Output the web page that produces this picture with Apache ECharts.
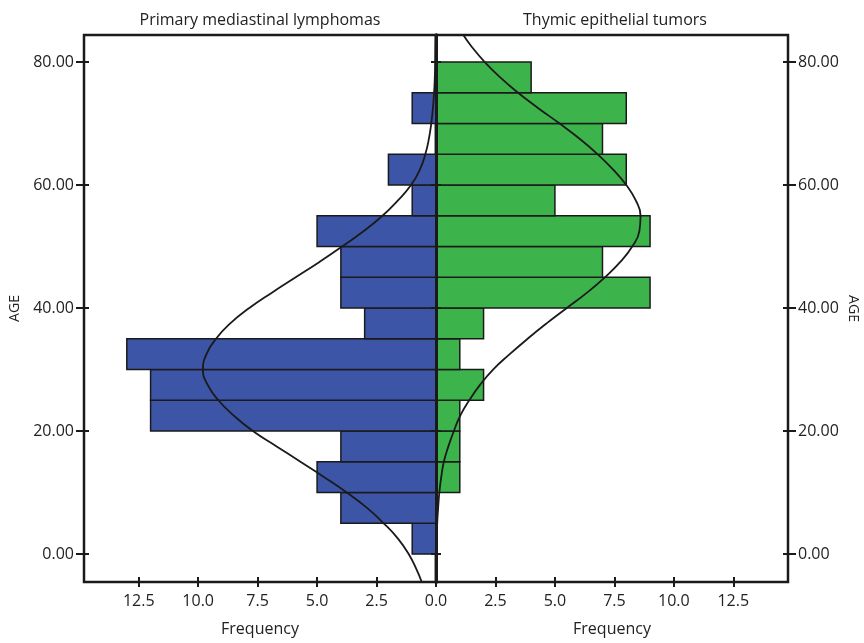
<!DOCTYPE html>
<html>
<head>
<meta charset="utf-8">
<title>AGE histogram</title>
<script src="https://cdn.jsdelivr.net/npm/echarts@6.0.0/dist/echarts.min.js"></script>
<style>
  html, body { margin: 0; padding: 0; background: #ffffff; }
  #main { width: 864px; height: 643px; }
</style>
</head>
<body>
<div id="main"></div>
<script>
// age bins, 5 years wide, given by their lower edge
var binStarts = [0, 5, 10, 15, 20, 25, 30, 35, 40, 45, 50, 55, 60, 65, 70, 75];
var lymphomaCounts = [1, 4, 5, 4, 12, 12, 13, 3, 4, 4, 5, 1, 2, 0, 1, 0];
var thymicCounts = [0, 0, 1, 1, 1, 2, 1, 2, 9, 7, 9, 5, 8, 7, 8, 4];

// normal curves at these ages
var curveAges = [-4.55, -2.5, 0, 2.5, 5, 7.5, 10, 12.5, 15, 17.5, 20, 22.5, 25, 27.5, 30, 32.5, 35, 37.5,
    40, 42.5, 45, 47.5, 50, 52.5, 55, 57.5, 60, 62.5, 65, 67.5, 70, 72.5, 75, 77.5, 80, 82.5, 84.4];
var lymphomaCurve = [0.6, 0.82, 1.15, 1.6, 2.2, 2.9, 3.75, 4.7, 5.7, 6.7, 7.7, 8.5, 9.15, 9.6, 9.8, 9.65, 9.25, 8.65,
    7.85, 6.9, 5.9, 4.9, 3.95, 3.05, 2.25, 1.6, 1.05, 0.68, 0.45, 0.3, 0.2, 0.13, 0.08, 0.05, 0.03, 0.02, 0.01];
var thymicCurve = [0, 0.005, 0.01, 0.03, 0.05, 0.09, 0.14, 0.22, 0.33, 0.52, 0.75, 1.02, 1.4, 1.85, 2.4, 3.1, 3.85, 4.65,
    5.5, 6.35, 7.1, 7.75, 8.25, 8.55, 8.6, 8.4, 8.0, 7.45, 6.8, 6.05, 5.2, 4.3, 3.45, 2.7, 2.05, 1.5, 1.15];

var ageTicks = [0, 20, 40, 60, 80];
var leftFreqTicks = [2.5, 5, 7.5, 10, 12.5];
var rightFreqTicks = [0, 2.5, 5, 7.5, 10, 12.5];

var font = '"Open Sans", "Noto Sans", sans-serif';
var ink = '#1a1a1a';

function binData(counts) {
    var out = [];
    for (var i = 0; i < binStarts.length; i++) {
        if (counts[i] > 0) out.push([binStarts[i], binStarts[i] + 5, counts[i]]);
    }
    return out;
}

function curveData(vals) {
    return curveAges.map(function (a, i) { return [vals[i], a]; });
}

function histRender(fill) {
    return function (params, api) {
        var p0 = api.coord([0, api.value(1)]);
        var p1 = api.coord([api.value(2), api.value(0)]);
        return {
            type: 'rect',
            shape: {
                x: Math.min(p0[0], p1[0]),
                y: p0[1],
                width: Math.abs(p1[0] - p0[0]),
                height: p1[1] - p0[1]
            },
            style: { fill: fill, stroke: ink, lineWidth: 1.5 }
        };
    };
}

function freqAxis(grid, inverse, labels, inside) {
    return {
        type: 'value', gridIndex: grid, min: 0, max: 14.8, inverse: inverse,
        position: 'bottom',
        axisLine: { show: false, onZero: false },
        splitLine: { show: false },
        axisTick: {
            show: true, inside: inside, length: 5, customValues: rightFreqTicks,
            lineStyle: { color: ink, width: 2 }
        },
        axisLabel: inside ? { show: false } : {
            show: true, customValues: labels, margin: 11,
            fontFamily: font, fontSize: 16, color: '#222',
            formatter: function (v) { return v.toFixed(1); }
        },
        name: inside ? '' : 'Frequency',
        nameLocation: 'middle', nameGap: 39,
        nameTextStyle: { fontFamily: font, fontSize: 16, color: '#222' }
    };
}

function ageAxis(grid, pos, opts) {
    var ax = {
        type: 'value', gridIndex: grid, min: -4.55, max: 84.4, position: pos,
        splitLine: { show: false },
        axisLine: { show: false, onZero: false },
        axisTick: {
            show: true, inside: !!opts.inside, length: opts.tick,
            customValues: ageTicks, lineStyle: { color: ink, width: 2 }
        },
        axisLabel: { show: false }
    };
    if (opts.labels) {
        ax.axisLabel = {
            show: true, customValues: ageTicks, margin: 10,
            fontFamily: font, fontSize: 16, color: '#222',
            formatter: function (v) { return v.toFixed(2); }
        };
        ax.name = 'AGE';
        ax.nameLocation = 'middle';
        ax.nameGap = opts.gap;
        ax.nameRotate = opts.rotate;
        ax.nameTextStyle = { fontFamily: font, fontSize: 14, color: '#222' };
    }
    if (opts.center) {
        ax.z = 10;
        ax.axisLine = { show: true, onZero: false, lineStyle: { color: ink, width: 3 } };
    }
    return ax;
}

var myChart = echarts.init(document.getElementById('main'));

myChart.setOption({
    backgroundColor: '#ffffff',
    animation: false,
    title: [{
        text: 'Primary mediastinal lymphomas', left: 255, top: 7, textAlign: 'center',
        textStyle: { fontFamily: font, fontSize: 16, fontWeight: 'normal', color: '#222' }
    }, {
        text: 'Thymic epithelial tumors', left: 610, top: 7, textAlign: 'center',
        textStyle: { fontFamily: font, fontSize: 16, fontWeight: 'normal', color: '#222' }
    }],
    grid: [
        { left: 84, top: 35, width: 352, height: 547, show: true, borderColor: ink, borderWidth: 2.5, backgroundColor: 'transparent' },
        { left: 436, top: 35, width: 352, height: 547, show: true, borderColor: ink, borderWidth: 2.5, backgroundColor: 'transparent' }
    ],
    xAxis: [
        freqAxis(0, true, leftFreqTicks, false),
        freqAxis(0, true, leftFreqTicks, true),
        freqAxis(1, false, rightFreqTicks, false),
        freqAxis(1, false, rightFreqTicks, true)
    ],
    yAxis: [
        ageAxis(0, 'left', { tick: 8, labels: true, gap: 62, rotate: 90 }),
        ageAxis(0, 'left', { tick: 5, inside: true }),
        ageAxis(0, 'right', { tick: 5, inside: true, center: true }),
        ageAxis(1, 'right', { tick: 8, labels: true, gap: 58, rotate: -90 }),
        ageAxis(1, 'right', { tick: 5, inside: true }),
        ageAxis(1, 'left', { tick: 5, inside: true, center: true })
    ],
    series: [{
        name: 'Primary mediastinal lymphomas',
        type: 'custom',
        xAxisIndex: 0, yAxisIndex: 0,
        encode: { x: 2, y: [0, 1] },
        renderItem: histRender('#3d55a6'),
        data: binData(lymphomaCounts)
    }, {
        name: 'Thymic epithelial tumors',
        type: 'custom',
        xAxisIndex: 2, yAxisIndex: 3,
        encode: { x: 2, y: [0, 1] },
        renderItem: histRender('#3cb44b'),
        data: binData(thymicCounts)
    }, {
        type: 'line',
        xAxisIndex: 0, yAxisIndex: 0,
        smooth: true, showSymbol: false, z: 5,
        lineStyle: { color: ink, width: 1.8 },
        data: curveData(lymphomaCurve)
    }, {
        type: 'line',
        xAxisIndex: 2, yAxisIndex: 3,
        smooth: true, showSymbol: false, z: 5,
        lineStyle: { color: ink, width: 1.8 },
        data: curveData(thymicCurve)
    }]
});
</script>
</body>
</html>
